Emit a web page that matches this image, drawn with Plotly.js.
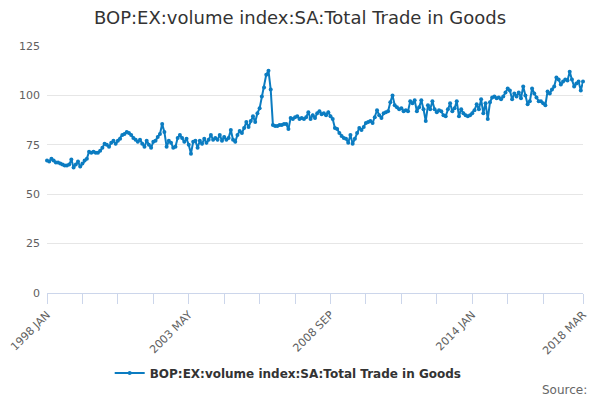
<!DOCTYPE html>
<html>
<head>
<meta charset="utf-8">
<script src="https://cdn.plot.ly/plotly-3.0.1.min.js"></script>
<style>
  html, body { margin: 0; padding: 0; background: #fff; }
  #chart { width: 600px; height: 400px; }
</style>
</head>
<body>
<div id="chart"></div>
<script>
// month names and year span for the category axis
const monthNames = ["JAN", "FEB", "MAR", "APR", "MAY", "JUN", "JUL", "AUG", "SEP", "OCT", "NOV", "DEC"];
const firstYear = 1998;
const lastYear = 2018;
const lastMonth = 3; // data stops at 2018 MAR

// volume index values, one row per year
const values = [
  67, 66.5, 68, 67, 66, 66, 65.5, 65, 64.5, 64.5, 65, 67.5,            // 1998
  63.5, 65, 66.5, 64, 65.5, 67, 68, 71.5, 71, 71.5, 71, 71,            // 1999
  72, 73.5, 75.5, 75, 74, 76, 77, 75.5, 77, 78, 80, 80.5,              // 2000
  81.5, 81, 80, 78.5, 77.5, 76.5, 77.5, 75.5, 74, 77, 75, 73.5,        // 2001
  76.5, 77, 79, 80.5, 85.5, 81.5, 74, 77, 76, 73.5, 74, 78.5,          // 2002
  80, 78.5, 76.5, 78, 75, 70.5, 76.5, 77, 73.5, 77, 75.5, 78,          // 2003
  76, 77.5, 80, 77.5, 78.5, 77.5, 80, 77, 79, 77.5, 78.5, 82.5,        // 2004
  77.5, 76.5, 80, 82, 81, 83.5, 86.5, 84, 87, 89.5, 86.5, 91,          // 2005
  93.5, 99.5, 104, 110.5, 112.5, 103, 85, 84.5, 84.5, 85, 85, 85.5,    // 2006
  85.5, 83, 88.5, 88, 89, 89.5, 88, 88.5, 88, 89, 91.5, 88,            // 2007
  90, 88.5, 91, 92, 90.5, 91, 90, 91.5, 89.5, 88, 83.5, 83,            // 2008
  81, 79.5, 78.5, 78, 76, 80, 75.5, 78, 81, 83.5, 82.5, 84,            // 2009
  86, 86.5, 87, 86, 89, 92.5, 90, 88.5, 91, 91.5, 92, 96.5,            // 2010
  100, 95, 94, 93, 93.5, 92, 92.5, 92, 97, 96, 97.5, 92,               // 2011
  94, 97.5, 93, 87, 95, 93, 97, 93, 91.5, 92.5, 92, 90,                // 2012
  89.5, 93, 96, 92, 93.5, 97, 89.5, 93, 91, 90, 89.5, 90,              // 2013
  91, 92.5, 95.5, 93, 98, 91, 96, 88, 96.5, 99, 99.5, 98.5,            // 2014
  99, 98, 99.5, 101.5, 103.5, 102.5, 98, 101, 99.5, 101.5, 98.5, 104.5, // 2015
  100, 95.5, 97, 103.5, 101, 99, 97, 97, 96, 95, 102, 101,             // 2016
  103, 104.5, 109, 108, 105.5, 107, 108, 107.5, 112, 108, 104.5, 106,  // 2017
  107, 102.5, 107                                                      // 2018
];

// category labels "1998 JAN" ... "2018 MAR"
let categories = [];
for (let y = firstYear; y <= lastYear; y++) {
  for (let m = 0; m < 12; m++) {
    if (y === lastYear && m >= lastMonth) break;
    categories.push(y + " " + monthNames[m]);
  }
}

// a tick every 16 months plus one on the last month, labels on every 4th tick
const tickStep = 16;
const labelEvery = 4;
let lastIdx = categories.length - 1;
let tickVals = [];
let tickText = [];
for (let i = 0, k = 0; i <= lastIdx - tickStep; i += tickStep, k++) {
  tickVals.push(categories[i]);
  tickText.push(k % labelEvery === 0 ? categories[i] : "");
}
tickVals.push(categories[lastIdx]);
tickText.push(categories[lastIdx]);

const seriesName = "BOP:EX:volume index:SA:Total Trade in Goods";
const lineColor = "#0b7cc1";

let trace = {
  type: "scatter",
  mode: "lines+markers",
  x: categories,
  y: values,
  name: seriesName,
  line: { color: lineColor, width: 2 },
  marker: { color: lineColor, size: 4 },
  cliponaxis: false
};

let layout = {
  width: 600,
  height: 400,
  margin: { l: 47, r: 17, t: 46, b: 107 },
  paper_bgcolor: "#ffffff",
  plot_bgcolor: "#ffffff",
  font: { family: "DejaVu Sans, sans-serif", color: "#606060", size: 11 },
  title: {
    text: "BOP:EX:volume index:SA:Total Trade in Goods",
    font: { family: "DejaVu Sans, sans-serif", size: 18, color: "#333333" },
    x: 0.5,
    xanchor: "center",
    y: 0.955,
    yanchor: "middle"
  },
  xaxis: {
    type: "category",
    range: [0, lastIdx],
    tickmode: "array",
    tickvals: tickVals,
    ticktext: tickText,
    tickangle: -45,
    ticks: "outside",
    ticklen: 10,
    tickcolor: "#ccd6eb",
    showline: true,
    linecolor: "#ccd6eb",
    linewidth: 1,
    showgrid: false,
    zeroline: false,
    tickfont: { size: 11, color: "#606060" }
  },
  yaxis: {
    range: [0, 125],
    tickvals: [0, 25, 50, 75, 100, 125],
    showgrid: true,
    gridcolor: "#e6e6e6",
    zeroline: false,
    showline: false,
    ticks: "",
    ticklabelstandoff: 6,
    tickfont: { size: 11, color: "#606060" }
  },
  showlegend: true,
  legend: {
    orientation: "h",
    x: 0.45,
    xanchor: "center",
    y: -0.324,
    yanchor: "middle",
    font: { size: 12, color: "#333333", weight: "bold" }
  },
  annotations: [{
    text: "Source:",
    xref: "paper",
    yref: "paper",
    x: 1.011,
    xanchor: "right",
    y: -0.393,
    yanchor: "middle",
    showarrow: false,
    font: { size: 12, color: "#666666" }
  }]
};

Plotly.newPlot("chart", [trace], layout, { displayModeBar: false, staticPlot: true });
</script>
</body>
</html>
